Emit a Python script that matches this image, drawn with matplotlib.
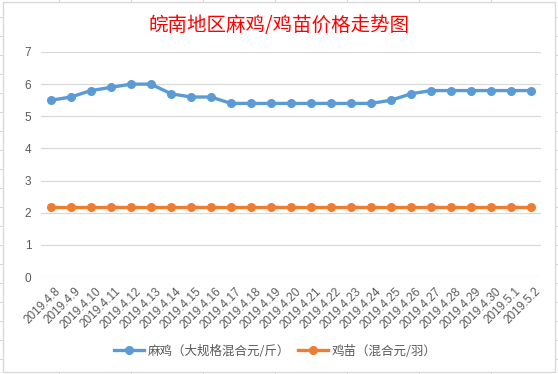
import matplotlib.pyplot as plt
import matplotlib.transforms as mtransforms
from matplotlib.lines import Line2D
from matplotlib.patches import Rectangle

dates = [
    "2019.4.8", "2019.4.9", "2019.4.10", "2019.4.11", "2019.4.12",
    "2019.4.13", "2019.4.14", "2019.4.15", "2019.4.16", "2019.4.17",
    "2019.4.18", "2019.4.19", "2019.4.20", "2019.4.21", "2019.4.22",
    "2019.4.23", "2019.4.24", "2019.4.25", "2019.4.26", "2019.4.27",
    "2019.4.28", "2019.4.29", "2019.4.30", "2019.5.1", "2019.5.2",
]
maji = [5.5, 5.6, 5.8, 5.9, 6.0, 6.0, 5.7, 5.6, 5.6, 5.4,
        5.4, 5.4, 5.4, 5.4, 5.4, 5.4, 5.4, 5.5, 5.7, 5.8,
        5.8, 5.8, 5.8, 5.8, 5.8]
jimiao = [2.18] * 25

label_maji = "麻鸡（大规格混合元/斤）"
label_jimiao = "鸡苗（混合元/羽）"
title = "皖南地区麻鸡/鸡苗价格走势图"

W, H = 558, 374
blue = "#5B9BD5"
orange = "#ED7D31"
grey_txt = "#595959"
grid_c = "#D9D9D9"

plt.rcParams["font.family"] = ["Liberation Sans", "Noto Sans CJK SC", "DejaVu Sans"]

fig = plt.figure(figsize=(W / 100, H / 100), dpi=100)

# spreadsheet cells behind the chart
for y in range(17, H, 19):
    fig.add_artist(Line2D([0, 1], [1 - y / H, 1 - y / H], color=grid_c, lw=0.75, zorder=-3))
for x in range(59, W, 72):
    fig.add_artist(Line2D([x / W, x / W], [0, 1], color=grid_c, lw=0.75, zorder=-3))
fig.add_artist(Rectangle((3 / W, 1 - 372 / H), 552 / W, 370 / H,
                         facecolor="white", edgecolor=grid_c, lw=1.0, zorder=-2))

ax = fig.add_axes([41 / W, 1 - 277 / H, 500 / W, 225 / H])
ax.set_facecolor("none")
x = list(range(len(dates)))
ax.plot(x, maji, "-o", color=blue, lw=2.4, ms=5.5, label=label_maji)
ax.plot(x, jimiao, "-o", color=orange, lw=2.4, ms=5.5, label=label_jimiao)

ax.set_xlim(-0.5, len(dates) - 0.5)
ax.set_ylim(0, 7)
ax.set_yticks(range(8))
ax.grid(axis="y", color=grid_c, lw=0.9)
ax.set_axisbelow(True)
for s in ax.spines.values():
    s.set_visible(False)
ax.tick_params(length=0, colors=grey_txt, labelsize=8.5)
ax.tick_params(axis="y", pad=7)
ax.set_xticks(x)
ax.set_xticklabels(dates, rotation=45, ha="right", va="top",
                   rotation_mode="anchor", fontsize=8.5)
ax.tick_params(axis="x", pad=6)
shift = mtransforms.ScaledTranslation(4 / 100, 0, fig.dpi_scale_trans)
for lbl in ax.get_xticklabels():
    lbl.set_transform(lbl.get_transform() + shift)

fig.text(279 / W, 1 - 25 / H, title, color="#FF0000", fontsize=14,
         ha="center", va="center", family=["Noto Sans CJK SC", "DejaVu Sans"])

leg = fig.legend(loc="center", bbox_to_anchor=(275 / W, 1 - 351 / H), ncol=2,
                 frameon=False, handlelength=2.4, columnspacing=0.6,
                 handletextpad=0.3, prop={"family": ["Noto Sans CJK SC", "DejaVu Sans"], "size": 9})
for t in leg.get_texts():
    t.set_color(grey_txt)

fig.savefig("out.png", dpi=100)
